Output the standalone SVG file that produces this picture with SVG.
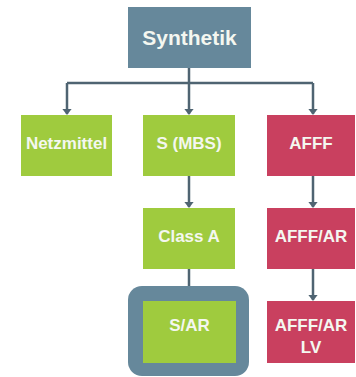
<svg xmlns="http://www.w3.org/2000/svg" width="356" height="377" viewBox="0 0 356 377">
<style>
.t{font-family:"Liberation Sans",Arial,sans-serif;font-weight:bold;fill:#f4f7f0;text-anchor:middle;font-size:17px}
.g{fill:#9fcb3e}
.r{fill:#c9405f}
.b{fill:#66889b}
.c{stroke:#4f6472;stroke-width:2.5;fill:none}
</style>
<defs>
<marker id="ah" markerWidth="2.6" markerHeight="4" refX="2.2" refY="2" orient="auto" markerUnits="strokeWidth">
<path d="M0,0 L2.6,2 L0,4 z" fill="#4f6472"/>
</marker>
</defs>
<rect width="356" height="377" fill="#ffffff"/>
<g id="connectors">
<path class="c" d="M189,68 V83 M67,83 H313"/>
<path class="c" d="M67,83 V114" marker-end="url(#ah)"/>
<path class="c" d="M189,83 V114" marker-end="url(#ah)"/>
<path class="c" d="M313,83 V114" marker-end="url(#ah)"/>
<path class="c" d="M189,176 V207" marker-end="url(#ah)"/>
<path class="c" d="M313,176 V207" marker-end="url(#ah)"/>
<path class="c" d="M189,269 V300" marker-end="url(#ah)"/>
<path class="c" d="M313,269 V300" marker-end="url(#ah)"/>
</g>
<g id="synthetik">
<rect class="b" x="128" y="7" width="123" height="61"/>
<text class="t" x="189.5" y="45" style="font-size:21px">Synthetik</text>
</g>
<g id="netzmittel">
<rect class="g" x="21" y="115" width="91" height="61"/>
<text class="t" x="66.5" y="149">Netzmittel</text>
</g>
<g id="smbs">
<rect class="g" x="143" y="115" width="92" height="61"/>
<text class="t" x="189" y="149">S (MBS)</text>
</g>
<g id="afff">
<rect class="r" x="267" y="115" width="88" height="61"/>
<text class="t" x="311" y="149">AFFF</text>
</g>
<g id="classa">
<rect class="g" x="143" y="208" width="92" height="61"/>
<text class="t" x="189" y="242">Class A</text>
</g>
<g id="afffar">
<rect class="r" x="267" y="208" width="88" height="61"/>
<text class="t" x="311" y="242">AFFF/AR</text>
</g>
<g id="sar">
<rect class="b" x="128" y="286" width="121" height="90" rx="14" ry="14"/>
<rect class="g" x="143" y="301" width="93" height="62"/>
<text class="t" x="189.5" y="331">S/AR</text>
</g>
<g id="afffarlv">
<rect class="r" x="267" y="301" width="88" height="62"/>
<text class="t" x="311" y="331">AFFF/AR</text>
<text class="t" x="311" y="353">LV</text>
</g>
</svg>
